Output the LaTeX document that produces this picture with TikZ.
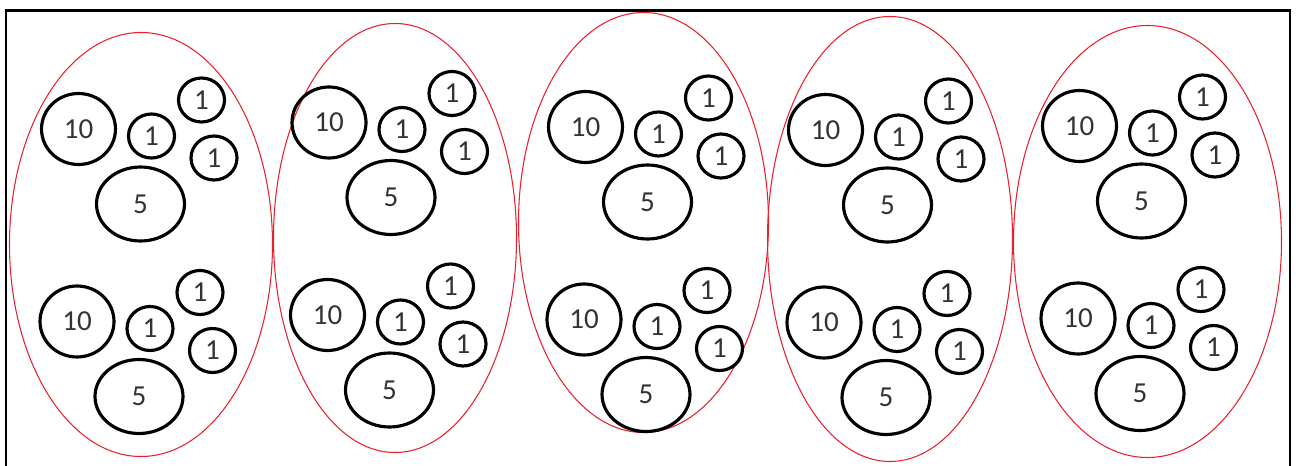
\documentclass[tikz,border=0pt]{standalone}
\usepackage{fontspec}
\setmainfont{Carlito}
\usepackage{tikz}
\usetikzlibrary{shapes.geometric}
\definecolor{cgred}{RGB}{232,32,44}
\tikzset{
  cgcoin/.style={
    ellipse, draw=black, line width=1.8pt, inner sep=0pt,
    text=black!80, font=\fontsize{16.5}{19}\selectfont
  },
  cgten/.style={cgcoin, minimum width=1.48cm, minimum height=1.42cm},
  cgone/.style={cgcoin, minimum width=0.92cm, minimum height=0.88cm},
  cgfive/.style={cgcoin, minimum width=1.76cm, minimum height=1.48cm},
  cgbag/.style={draw=cgred, line width=0.6pt},
  cgframe/.style={draw=black, line width=1.3pt}
}
\begin{document}
\begin{tikzpicture}[x=0.02cm,y=-0.02cm]
\useasboundingbox (0,0) rectangle (1301,466);
\draw[cgframe] (6,466) -- (6,10.5) -- (1290,10.5) -- (1290,466);

% bag 1
\begin{scope}[shift={(78.5,129)}]
  \draw[cgbag] (62.5,115.5) ellipse [x radius=131.5, y radius=212];
  \node[cgten]  (au10) at (0,0)       {10};
  \node[cgone]  (au1m) at (73,7)      {1};
  \node[cgone]  (au1t) at (123,-29)   {1};
  \node[cgone]  (au1b) at (135.5,29)  {1};
  \node[cgfive] (au5)  at (62,75)     {5};
  \node[cgten]  (al10) at (-1.5,192.5)  {10};
  \node[cgone]  (al1m) at (71.5,199.5)  {1};
  \node[cgone]  (al1t) at (121.5,163.5) {1};
  \node[cgone]  (al1b) at (134,221.5)   {1};
  \node[cgfive] (al5)  at (60.5,267.5)  {5};
\end{scope}

% bag 2
\begin{scope}[shift={(329,122.5)}]
  \draw[cgbag] (66,115.5) ellipse [x radius=121.5, y radius=214.5];
  \node[cgten]  (bu10) at (0,0)       {10};
  \node[cgone]  (bu1m) at (73,7)      {1};
  \node[cgone]  (bu1t) at (123,-29)   {1};
  \node[cgone]  (bu1b) at (135.5,29)  {1};
  \node[cgfive] (bu5)  at (62,75)     {5};
  \node[cgten]  (bl10) at (-1.5,192.5)  {10};
  \node[cgone]  (bl1m) at (71.5,199.5)  {1};
  \node[cgone]  (bl1t) at (121.5,163.5) {1};
  \node[cgone]  (bl1b) at (134,221.5)   {1};
  \node[cgfive] (bl5)  at (60.5,267.5)  {5};
\end{scope}

% bag 3
\begin{scope}[shift={(585.5,127)}]
  \draw[cgbag] (58,95.5) ellipse [x radius=125, y radius=210];
  \node[cgten]  (cu10) at (0,0)       {10};
  \node[cgone]  (cu1m) at (73,7)      {1};
  \node[cgone]  (cu1t) at (123,-29)   {1};
  \node[cgone]  (cu1b) at (135.5,29)  {1};
  \node[cgfive] (cu5)  at (62,75)     {5};
  \node[cgten]  (cl10) at (-1.5,192.5)  {10};
  \node[cgone]  (cl1m) at (71.5,199.5)  {1};
  \node[cgone]  (cl1t) at (121.5,163.5) {1};
  \node[cgone]  (cl1b) at (134,221.5)   {1};
  \node[cgfive] (cl5)  at (60.5,267.5)  {5};
\end{scope}

% bag 4
\begin{scope}[shift={(825.5,130)}]
  \draw[cgbag] (64.5,109) ellipse [x radius=122.5, y radius=222.5];
  \node[cgten]  (du10) at (0,0)       {10};
  \node[cgone]  (du1m) at (73,7)      {1};
  \node[cgone]  (du1t) at (123,-29)   {1};
  \node[cgone]  (du1b) at (135.5,29)  {1};
  \node[cgfive] (du5)  at (62,75)     {5};
  \node[cgten]  (dl10) at (-1.5,192.5)  {10};
  \node[cgone]  (dl1m) at (71.5,199.5)  {1};
  \node[cgone]  (dl1t) at (121.5,163.5) {1};
  \node[cgone]  (dl1b) at (134,221.5)   {1};
  \node[cgfive] (dl5)  at (60.5,267.5)  {5};
\end{scope}

% bag 5
\begin{scope}[shift={(1079.5,126)}]
  \draw[cgbag] (68,115.5) ellipse [x radius=134, y radius=216];
  \node[cgten]  (eu10) at (0,0)       {10};
  \node[cgone]  (eu1m) at (73,7)      {1};
  \node[cgone]  (eu1t) at (123,-29)   {1};
  \node[cgone]  (eu1b) at (135.5,29)  {1};
  \node[cgfive] (eu5)  at (62,75)     {5};
  \node[cgten]  (el10) at (-1.5,192.5)  {10};
  \node[cgone]  (el1m) at (71.5,199.5)  {1};
  \node[cgone]  (el1t) at (121.5,163.5) {1};
  \node[cgone]  (el1b) at (134,221.5)   {1};
  \node[cgfive] (el5)  at (60.5,267.5)  {5};
\end{scope}
\end{tikzpicture}
\end{document}
